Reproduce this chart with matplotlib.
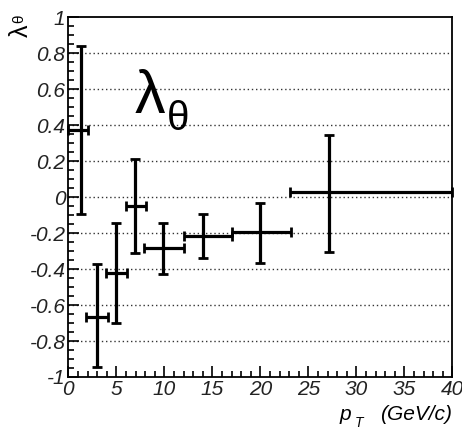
import matplotlib
matplotlib.use("Agg")
import matplotlib.pyplot as plt
from matplotlib.ticker import MultipleLocator
import numpy as np

plt.rcParams['font.family'] = ['Liberation Sans', 'DejaVu Sans']
plt.rcParams['axes.unicode_minus'] = False

# data
pt = [1.3, 2.96, 4.97, 6.98, 9.89, 14.0, 19.97, 27.2]
pt_low = [0.0, 1.84, 3.93, 5.98, 7.9, 12.05, 17.0, 23.1]
pt_high = [2.05, 4.17, 6.08, 8.06, 12.1, 17.0, 23.2, 40.0]
lam = [0.374, -0.664, -0.42, -0.049, -0.284, -0.216, -0.195, 0.027]
lam_low = [-0.094, -0.942, -0.701, -0.308, -0.427, -0.34, -0.364, -0.303]
lam_high = [0.842, -0.373, -0.142, 0.211, -0.145, -0.093, -0.03, 0.346]

y_ticks = [-1, -0.8, -0.6, -0.4, -0.2, 0, 0.2, 0.4, 0.6, 0.8, 1]
y_tick_labels = ['-1', '-0.8', '-0.6', '-0.4', '-0.2', '0', '0.2', '0.4', '0.6', '0.8', '1']
x_ticks = [0, 5, 10, 15, 20, 25, 30, 35, 40]
x_tick_labels = ['0', '5', '10', '15', '20', '25', '30', '35', '40']
grid_levels = [-0.8, -0.6, -0.4, -0.2, 0, 0.2, 0.4, 0.6, 0.8]

W, H = 462, 429
fig = plt.figure(figsize=(W / 100, H / 100), dpi=100)
ax = fig.add_axes([68.3 / W, 1 - 377 / H, (452.3 - 68.3) / W, (377 - 17.3) / H])

for g in grid_levels:
    ax.axhline(g, color='#333333', lw=1.0, ls=(0, (1, 2)), zorder=1)

pt_a = np.array(pt); lam_a = np.array(lam)
xerr = [pt_a - np.array(pt_low), np.array(pt_high) - pt_a]
yerr = [lam_a - np.array(lam_low), np.array(lam_high) - lam_a]
eb = ax.errorbar(pt, lam, xerr=xerr, yerr=yerr, fmt='none', ecolor='black',
                 elinewidth=2.3, capsize=3.5, capthick=2.0, zorder=3)
for art in eb.get_children():
    art.set_clip_on(False)

ax.set_xlim(0, 40)
ax.set_ylim(-1, 1)
ax.set_yticks(y_ticks)
ax.set_yticklabels(y_tick_labels)
ax.set_xticks(x_ticks)
ax.set_xticklabels(x_tick_labels)
ax.yaxis.set_minor_locator(MultipleLocator(0.05))
ax.xaxis.set_minor_locator(MultipleLocator(1))
ax.tick_params(which='both', direction='in', right=False, top=False, width=1.2)
ax.tick_params(which='major', length=8, labelsize=15, pad=2)
ax.tick_params(which='minor', length=4.5)
for lab in ax.get_xticklabels() + ax.get_yticklabels():
    lab.set_fontstyle('italic')
    lab.set_color('#222222')
for s in ax.spines.values():
    s.set_linewidth(1.3)

# big annotation
fig.text(135 / W, 1 - 113 / H, 'λ', fontsize=44, ha='left', va='baseline')
fig.text(167 / W, 1 - 130 / H, 'θ', fontsize=29, ha='left', va='baseline')

# y label (rotated)
fig.text(33 / W, 1 - 37 / H, 'λ', fontsize=18, rotation=90, ha='right', va='bottom')
fig.text(26 / W, 1 - 23 / H, 'θ', fontsize=11, rotation=90, ha='right', va='bottom')

# x label
fig.text(340 / W, 1 - 420 / H, 'p', fontsize=15, style='italic', ha='left', va='baseline')
fig.text(355 / W, 1 - 427 / H, 'T', fontsize=10, style='italic', ha='left', va='baseline')
fig.text(452 / W, 1 - 420 / H, '(GeV/c)', fontsize=15, style='italic', ha='right', va='baseline')

fig.savefig('out.png', dpi=100)
